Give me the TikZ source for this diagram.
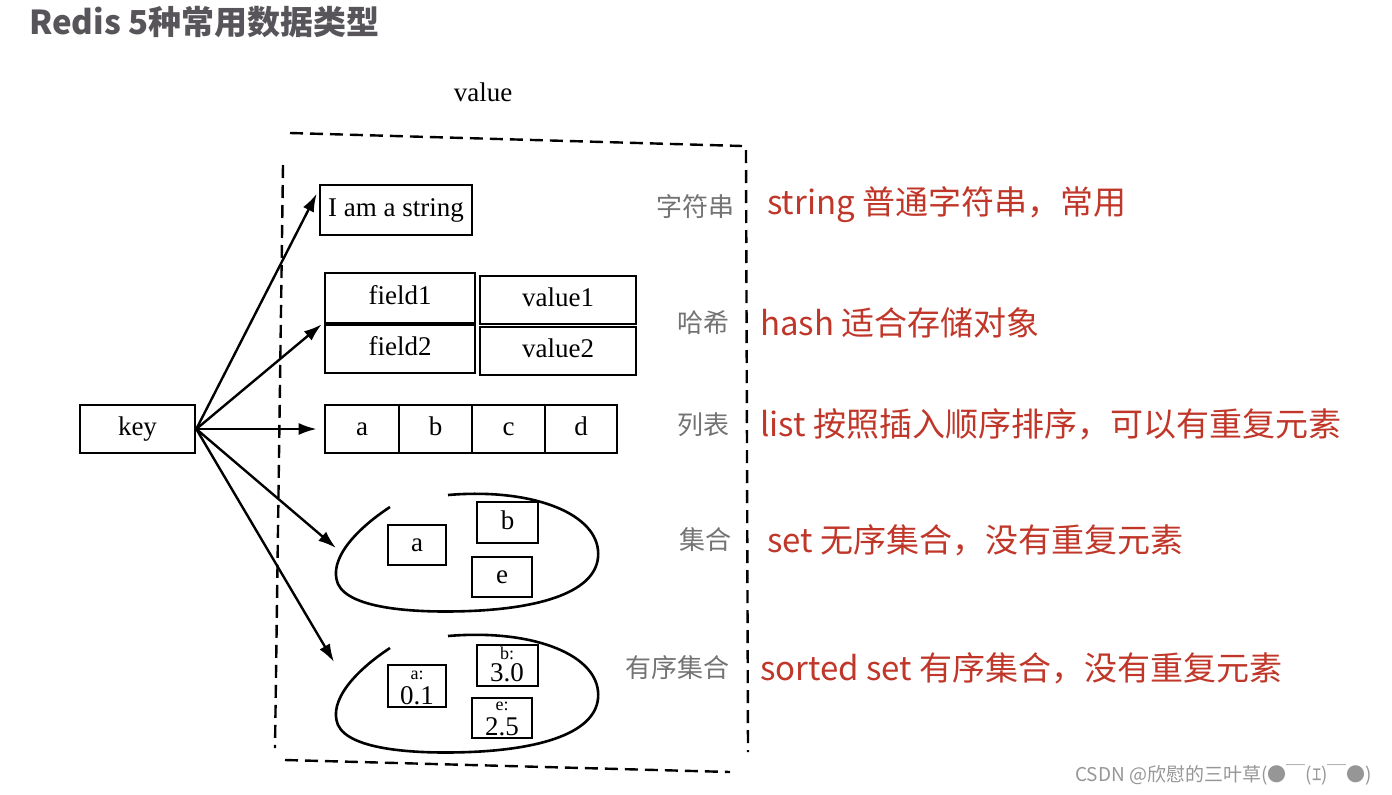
\documentclass[tikz,border=0pt]{standalone}
\usepackage{fontspec}
\usetikzlibrary{arrows.meta}
\newfontfamily\cjk{Noto Sans CJK SC}
\newfontfamily\serif{Liberation Serif}
\definecolor{redtxt}{RGB}{192,55,42}
\definecolor{titlegray}{RGB}{88,85,90}
\definecolor{labgray}{RGB}{115,115,115}
\definecolor{wmgray}{RGB}{150,150,150}
\tikzset{
  box/.style={draw, line width=2.6pt, inner sep=0pt, text height=13pt, text depth=0pt, font=\serif\fontsize{27}{27}\selectfont},
  arr/.style={-{Latex[length=18pt,width=12pt]}, line width=2.4pt},
  frame/.style={dashed, dash pattern=on 13pt off 7pt, line width=2.4pt},
  loopline/.style={line width=2.6pt},
  graylab/.style={font=\cjk\fontsize{26}{26}\selectfont, text=labgray},
  redlab/.style={anchor=west, font=\cjk\fontsize{33}{33}\selectfont, text=redtxt, inner sep=0pt},
  small/.style={font=\serif\fontsize{18}{18}\selectfont, inner sep=0pt},
  num/.style={font=\serif\fontsize{27}{27}\selectfont, inner sep=0pt}
}
\begin{document}
\begin{tikzpicture}[x=1pt,y=-1pt]
\useasboundingbox (0,0) rectangle (1392,795);
% title
\node[anchor=west, inner sep=0pt, text=titlegray, font=\cjk\bfseries\fontsize{33}{33}\selectfont] (title) at (29,22) {Redis 5种常用数据类型};
% value label
\node[font=\serif\fontsize{27}{27}\selectfont] (valuelab) at (483,92) {value};
% dashed frame
\draw[frame] (290,133) -- (742,146);
\draw[frame] (283,165) -- (275,748);
\draw[frame] (746,150) -- (748,752);
\draw[frame] (285,760) -- (730,772);
% key
\node[box, minimum width=115pt, minimum height=48pt] (key) at (137.5,429) {key};
% string
\node[box, minimum width=152pt, minimum height=50pt] (str) at (396,210) {I am a string};
% hash
\node[box, minimum width=150pt, minimum height=50pt] (f1) at (400,298) {field1};
\node[box, minimum width=156pt, minimum height=48pt] (v1) at (558,300) {value1};
\node[box, minimum width=150pt, minimum height=48pt] (f2) at (400,349) {field2};
\node[box, minimum width=156pt, minimum height=48pt] (v2) at (558,351) {value2};
% list
\node[box, minimum width=74pt, minimum height=48pt] (la) at (362,429) {a};
\node[box, minimum width=73pt, minimum height=48pt] (lb) at (435.5,429) {b};
\node[box, minimum width=73pt, minimum height=48pt] (lc) at (508.5,429) {c};
\node[box, minimum width=72pt, minimum height=48pt] (ld) at (581,429) {d};
% set
\draw[loopline] (390,507) .. controls (355,530) and (328,560) .. (338,584) .. controls (350,610) and (420,613) .. (470,611) .. controls (545,608) and (602,590) .. (598,550) .. controls (594,512) and (530,488) .. (448,495);
\node[box, minimum width=58pt, minimum height=40pt] (sa) at (417,545) {a};
\node[box, minimum width=61pt, minimum height=41pt] (sb) at (507.5,522.5) {b};
\node[box, minimum width=60pt, minimum height=40pt] (se) at (502,577) {e};
% sorted set
\begin{scope}[shift={(0,141)}]
\draw[loopline] (390,507) .. controls (355,530) and (328,560) .. (338,584) .. controls (350,610) and (420,613) .. (470,611) .. controls (545,608) and (602,590) .. (598,550) .. controls (594,512) and (530,488) .. (448,495);
\end{scope}
\node[box, minimum width=58pt, minimum height=42pt] (za) at (417,686) {};
\node[box, minimum width=61pt, minimum height=41pt] (zb) at (507.5,665.5) {};
\node[box, minimum width=60pt, minimum height=40pt] (ze) at (502,718) {};
\node[small] (zat) at (417,675) {a:};
\node[num] (zan) at (417,696) {0.1};
\node[small] (zbt) at (507,653) {b:};
\node[num] (zbn) at (507,673) {3.0};
\node[small] (zet) at (502,706) {e:};
\node[num] (zen) at (502,727) {2.5};
% arrows
\coordinate (setin) at (336,548);
\coordinate (zsetin) at (334,662);
\draw[arr] (key.east) -- ([xshift=-2pt,yshift=-10pt]str.north west);
\draw[arr] (key.east) -- ([xshift=-2pt]f1.south west);
\draw[arr] (key.east) -- ([xshift=-7pt]la.west);
\draw[arr] (key.east) -- (setin);
\draw[arr] (key.east) -- (zsetin);
% gray labels
\node[graylab] (l1) at (695,207) {字符串};
\node[graylab] (l2) at (703,323) {哈希};
\node[graylab] (l3) at (703,425) {列表};
\node[graylab] (l4) at (705,540) {集合};
\node[graylab] (l5) at (677,668) {有序集合};
% red descriptions
\node[redlab] (d1) at (767,205) {string 普通字符串，常用};
\node[redlab] (d2) at (760,323) {hash 适合存储对象};
\node[redlab] (d3) at (760,424) {list 按照插入顺序排序，可以有重复元素};
\node[redlab] (d4) at (767,540) {set 无序集合，没有重复元素};
\node[redlab] (d5) at (760,668) {sorted set 有序集合，没有重复元素};
% watermark
\node[anchor=west, inner sep=0pt, text=wmgray, font=\cjk\fontsize{19}{19}\selectfont] (wm) at (1075,775) {CSDN @欣慰的三叶草(●￣(ｴ)￣●)};
\end{tikzpicture}
\end{document}
